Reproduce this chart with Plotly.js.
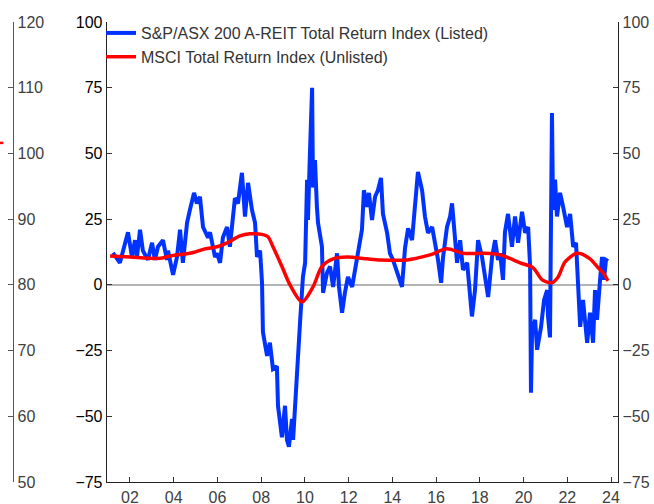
<!DOCTYPE html>
<html>
<head>
<meta charset="utf-8">
<script src="https://cdn.plot.ly/plotly-3.0.1.min.js"></script>
<style>html,body{margin:0;padding:0;background:#fff;}#chart{width:654px;height:504px;}</style>
</head>
<body>
<div id="chart"></div>
<script>
// Listed: S&P/ASX 200 A-REIT Total Return Index (annual % change)
const listedYears = [2001.22,2001.54,2001.91,2002.09,2002.23,2002.32,2002.46,2002.59,2002.82,2003.01,2003.14,2003.28,2003.51,2003.69,2003.74,2003.97,2004.15,2004.29,2004.42,2004.61,2004.74,2004.93,2005.06,2005.20,2005.34,2005.57,2005.66,2005.80,2005.89,2005.98,2006.12,2006.25,2006.44,2006.57,2006.67,2006.80,2006.94,2007.12,2007.26,2007.40,2007.58,2007.72,2007.81,2007.95,2008.04,2008.08,2008.27,2008.40,2008.54,2008.72,2008.77,2008.95,2009.09,2009.18,2009.27,2009.41,2009.46,2009.55,2009.64,2009.78,2009.91,2010.01,2010.10,2010.14,2010.23,2010.33,2010.37,2010.46,2010.55,2010.60,2010.78,2010.83,2011.01,2011.15,2011.29,2011.47,2011.56,2011.70,2011.83,2011.97,2012.16,2012.29,2012.43,2012.61,2012.70,2012.84,2012.93,2013.07,2013.21,2013.34,2013.48,2013.57,2013.76,2013.89,2014.03,2014.21,2014.44,2014.58,2014.72,2014.90,2015.04,2015.17,2015.36,2015.49,2015.63,2015.82,2015.95,2016.09,2016.23,2016.32,2016.50,2016.64,2016.73,2016.87,2016.96,2017.10,2017.23,2017.42,2017.55,2017.64,2017.78,2017.92,2018.10,2018.24,2018.38,2018.56,2018.70,2018.83,2018.93,2019.06,2019.15,2019.29,2019.47,2019.61,2019.75,2019.93,2020.07,2020.21,2020.30,2020.34,2020.39,2020.53,2020.62,2020.80,2020.94,2021.08,2021.12,2021.21,2021.30,2021.35,2021.44,2021.53,2021.67,2021.81,2021.99,2022.13,2022.27,2022.40,2022.49,2022.59,2022.72,2022.91,2023.04,2023.18,2023.27,2023.36,2023.50,2023.59,2023.68,2023.77,2023.86];
const listedValues = [12.2,8.4,20,10.6,17,10.6,21,13,9.5,16,9.5,14.5,17,9.5,13,3.8,10.6,21,8.4,23.6,28.5,35,31,33.5,22,18,20,14.5,10.6,12,8.4,18,22,14.5,22,33,31,42.6,26,38.8,28.5,23.6,10.6,13,0.8,-18,-27,-22,-32,-31,-46,-58,-46,-59,-61.6,-51,-59,-45,-31,-14,3,8.4,40,24.7,50,75,37,47.5,29.7,23.6,14.5,-3,4.6,7,-0.8,12,-0.8,-10.6,-3,3,-0.8,5.7,10.6,21,36,29.7,35,24.7,33.5,36,40.7,27,19.8,12,9.5,4.6,-0.8,14,21.5,17,31,43,36,26,19.8,22,16,9.5,0.8,10.6,22,26,31,18,8.4,17,5.7,8.4,-2,-12,-2,17,10.6,3,-4.6,10.6,17,9.5,12,1.9,20,27,14.5,26,16,27.8,19.8,22,7,-41,-18,-13.3,-24.7,-16,-5.7,-2,-12,-20,65.4,28.5,40,26,35,29.7,22,27,14.5,16,-0.8,-16,-5.7,-22,-10.6,-22,-2,-13.3,1.9,10.6,1.9,9.5,9];

// Unlisted: MSCI Total Return Index
const unlistedYears = [2001.09,2002.0,2003.37,2003.83,2004.74,2005.43,2005.98,2006.44,2007.03,2007.49,2008.04,2008.31,2008.54,2008.95,2009.32,2009.87,2010.37,2010.78,2011.29,2011.93,2012.84,2013.44,2014.67,2015.72,2016.50,2017.23,2018.15,2018.93,2019.84,2020.44,2020.85,2021.30,2021.58,2021.90,2022.45,2023.04,2023.41,2023.64,2023.86];
const unlistedValues = [11,10.6,10.1,11,12,13.7,14.5,16,18.6,19.4,19.2,18.3,14.5,7,0,-6.5,-0.8,7,9.9,10.6,9.9,9.5,9.5,11.4,13.7,12,12,11.4,8.4,6.5,1.9,0.8,3,8.7,12,9.9,6.5,4.6,1.5];

const xTickVals = [2002,2004,2006,2008,2010,2012,2014,2016,2018,2020,2022,2024];
const xTickText = ['02','04','06','08','10','12','14','16','18','20','22','24'];
const mainTicks = [-75,-50,-25,0,25,50,75,100];
const outerTicks = [50,60,70,80,90,100,110,120];

const FONT = 'Liberation Sans, Arial, sans-serif';

const traces = [
  {x: listedYears, y: listedValues, type: 'scatter', mode: 'lines',
   name: 'S&P/ASX 200 A-REIT Total Return Index (Listed)',
   line: {color: '#0033ff', width: 4}},
  {x: unlistedYears, y: unlistedValues, type: 'scatter', mode: 'lines',
   name: 'MSCI Total Return Index (Unlisted)',
   line: {color: '#ff0000', width: 3.5, shape: 'spline', smoothing: 0.8}},
  {x: [], y: [], yaxis: 'y3', showlegend: false, hoverinfo: 'skip'},
  {x: [], y: [], yaxis: 'y2', showlegend: false, hoverinfo: 'skip'}
];

const layout = {
  width: 654, height: 504,
  margin: {l: 13, r: 36, t: 22, b: 22},
  paper_bgcolor: '#ffffff', plot_bgcolor: '#ffffff',
  font: {family: FONT, size: 16, color: '#404040'},
  showlegend: true,
  legend: {x: 0.1455, y: 1.013, xanchor: 'left', yanchor: 'top',
           bgcolor: 'rgba(0,0,0,0)', font: {family: FONT, size: 16, color: '#333333'},
           itemwidth: 30, tracegroupgap: 0},
  xaxis: {domain: [0.1554, 1], range: [2000.95, 2024.32],
          tickmode: 'array', tickvals: xTickVals, ticktext: xTickText,
          ticks: 'inside', ticklen: 5, tickcolor: '#333', showgrid: false, zeroline: false,
          showline: true, linecolor: '#222', linewidth: 1.3,
          tickfont: {family: FONT, size: 16, color: '#404040'}},
  yaxis: {range: [-75, 100], tickmode: 'array', tickvals: mainTicks,
          ticks: 'inside', ticklen: 5, tickcolor: '#333', showgrid: false,
          zeroline: true, zerolinecolor: '#b4b4b4', zerolinewidth: 2,
          showline: true, linecolor: '#222', linewidth: 1.3,
          tickfont: {family: FONT, size: 16, color: '#000000'}},
  yaxis2: {range: [-75, 100], overlaying: 'y', side: 'right', anchor: 'x',
           tickmode: 'array', tickvals: mainTicks,
           ticks: 'inside', ticklen: 5, tickcolor: '#333', showgrid: false, zeroline: false,
           showline: true, linecolor: '#222', linewidth: 1.3,
           tickfont: {family: FONT, size: 16, color: '#404040'}},
  yaxis3: {range: [50, 120], overlaying: 'y', side: 'right', anchor: 'free', position: 0,
           tickmode: 'array', tickvals: outerTicks,
           ticks: 'inside', ticklen: 5, tickcolor: '#555', showgrid: false, zeroline: false,
           showline: true, linecolor: '#555', linewidth: 1.3,
           tickfont: {family: FONT, size: 16, color: '#404040'}},
  shapes: [
    {type: 'line', xref: 'paper', yref: 'y3', x0: -0.0215, x1: -0.016, y0: 101.6, y1: 101.6,
     line: {color: '#ff0000', width: 2.5}}
  ]
};

Plotly.newPlot('chart', traces, layout, {displayModeBar: false, staticPlot: true});
</script>
</body>
</html>
